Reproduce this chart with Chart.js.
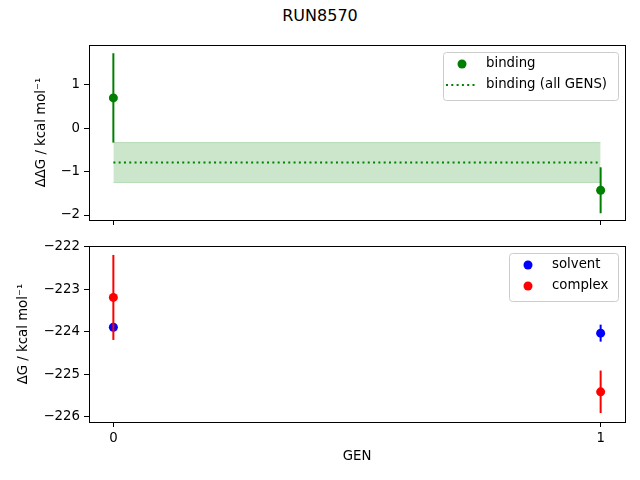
<!DOCTYPE html>
<html lang="en">
<head>
    <meta charset="UTF-8">
    <title>RUN8570</title>
    <script src="https://cdn.jsdelivr.net/npm/chart.js"></script>
    <style>
        body {
            margin: 0;
            background: #fff;
            font-family: "DejaVu Sans", sans-serif;
        }
        #wrap {
            position: relative;
            width: 640px;
            height: 480px;
        }
        #suptitle {
            position: absolute;
            top: 6px;
            left: 0;
            width: 640px;
            text-align: center;
            font-size: 16px;
            color: #000;
        }
        canvas {
            position: absolute;
            left: 0;
        }
        #topChart { top: 0; }
        #bottomChart { top: 230px; }
    </style>
</head>
<body>
<div id="wrap">
    <div id="suptitle">RUN8570</div>
    <canvas id="topChart" width="640" height="230"></canvas>
    <canvas id="bottomChart" width="640" height="250"></canvas>
</div>

<script>
    // data
    const gens = [0, 1];
    const xTicks = [0, 1];

    const bindingDDG = [0.70, -1.43];
    const bindingErr = [1.03, 0.53];
    const bindingAll = -0.79;
    const bindingAllErr = 0.46;

    const solventDG = [-223.89, -224.03];
    const solventErr = [0.08, 0.20];
    const complexDG = [-223.19, -225.41];
    const complexErr = [1.00, 0.50];

    const topTicks = [-2, -1, 0, 1];
    const bottomTicks = [-226, -225, -224, -223, -222];

    const FONT = '"DejaVu Sans", sans-serif';
    const pts = (xs, ys) => xs.map((x, i) => ({ x: x, y: ys[i] }));
    const minus = v => String(v).replace('-', '\u2212');

    // vertical error bar drawn right before its own dataset
    const errorBars = {
        id: 'errorBars',
        beforeDatasetDraw(chart, args) {
            const ds = chart.data.datasets[args.index];
            if (!ds.errs) return;
            const ctx = chart.ctx;
            const xs = chart.scales.x, ys = chart.scales.y;
            ctx.save();
            ctx.strokeStyle = ds.backgroundColor;
            ctx.lineWidth = 2;
            ds.data.forEach((p, i) => {
                const px = xs.getPixelForValue(p.x);
                ctx.beginPath();
                ctx.moveTo(px, ys.getPixelForValue(p.y + ds.errs[i]));
                ctx.lineTo(px, ys.getPixelForValue(p.y - ds.errs[i]));
                ctx.stroke();
            });
            ctx.restore();
        }
    };

    // full box around the plot area, like matplotlib spines
    const frame = {
        id: 'frame',
        afterDraw(chart) {
            const a = chart.chartArea, ctx = chart.ctx;
            ctx.save();
            ctx.strokeStyle = '#000';
            ctx.lineWidth = 1;
            ctx.strokeRect(Math.round(a.left) + 0.5, Math.round(a.top) + 0.5,
                Math.round(a.right - a.left), Math.round(a.bottom - a.top));
            ctx.restore();
        }
    };

    // matplotlib-style legend box in the upper right
    const boxLegend = {
        id: 'boxLegend',
        afterDraw(chart, args, opts) {
            const ctx = chart.ctx, a = chart.chartArea;
            const items = opts.items;
            const w = opts.width, h = 6 + items.length * 21;
            const x0 = a.right - 7 - w, y0 = a.top + 7;
            ctx.save();
            ctx.fillStyle = 'rgba(255,255,255,0.8)';
            ctx.strokeStyle = '#cccccc';
            ctx.lineWidth = 1;
            ctx.beginPath();
            ctx.roundRect(x0 + 0.5, y0 + 0.5, w, h, 3);
            ctx.fill();
            ctx.stroke();
            ctx.font = '13.3px ' + FONT;
            ctx.textBaseline = 'middle';
            items.forEach((it, i) => {
                const cy = y0 + 12 + i * 21;
                if (it.kind === 'dot') {
                    ctx.fillStyle = it.color;
                    ctx.beginPath();
                    ctx.arc(x0 + 19, cy, 4.5, 0, Math.PI * 2);
                    ctx.fill();
                } else {
                    ctx.strokeStyle = it.color;
                    ctx.lineWidth = 2;
                    ctx.setLineDash([2, 3.3]);
                    ctx.beginPath();
                    ctx.moveTo(x0 + 3, cy);
                    ctx.lineTo(x0 + 33, cy);
                    ctx.stroke();
                    ctx.setLineDash([]);
                }
                ctx.fillStyle = '#000';
                ctx.fillText(it.label, x0 + 43, cy);
            });
            ctx.restore();
        }
    };

    function xAxis(showLabels, height) {
        return {
            type: 'linear',
            min: -0.05,
            max: 1.05,
            afterBuildTicks: s => { s.ticks = xTicks.map(v => ({ value: v })); },
            afterFit: s => { s.height = height; s.paddingLeft = 0; s.paddingRight = 0; },
            grid: { drawOnChartArea: false, drawTicks: true, tickLength: 5, color: '#000', tickWidth: 1 },
            border: { display: true, color: '#000' },
            ticks: {
                display: showLabels,
                padding: 4,
                color: '#000',
                font: { family: FONT, size: 13.3 },
                maxRotation: 0,
                callback: v => minus(v)
            },
            title: {
                display: showLabels,
                text: 'GEN',
                color: '#000',
                font: { family: FONT, size: 13.3 },
                padding: { top: 0, bottom: 15 }
            }
        };
    }

    function yAxis(min, max, ticks, label, titlePad) {
        return {
            type: 'linear',
            min: min,
            max: max,
            afterBuildTicks: s => { s.ticks = ticks.map(v => ({ value: v })); },
            afterFit: s => { s.width = 89; s.paddingTop = 0; s.paddingBottom = 0; },
            grid: { drawOnChartArea: false, drawTicks: true, tickLength: 5, color: '#000', tickWidth: 1 },
            border: { display: true, color: '#000' },
            ticks: {
                padding: 4,
                color: '#000',
                font: { family: FONT, size: 13.3 },
                callback: v => minus(v)
            },
            title: {
                display: true,
                text: label,
                color: '#000',
                font: { family: FONT, size: 13.3 },
                padding: { top: titlePad, bottom: 0 }
            }
        };
    }

    const common = {
        responsive: false,
        animation: false,
        plugins: {
            legend: { display: false },
            tooltip: { enabled: false }
        }
    };

    new Chart(document.getElementById('topChart'), {
        type: 'line',
        data: {
            datasets: [
                {
                    label: 'binding',
                    data: pts(gens, bindingDDG),
                    errs: bindingErr,
                    showLine: false,
                    backgroundColor: '#008000',
                    borderColor: '#008000',
                    pointRadius: 4.5,
                    pointBorderWidth: 0
                },
                {
                    label: 'band upper',
                    data: pts(gens, gens.map(() => bindingAll + bindingAllErr)),
                    borderColor: 'rgba(0,128,0,0.2)',
                    borderWidth: 1,
                    pointRadius: 0,
                    fill: false
                },
                {
                    label: 'band lower',
                    data: pts(gens, gens.map(() => bindingAll - bindingAllErr)),
                    borderColor: 'rgba(0,128,0,0.2)',
                    backgroundColor: 'rgba(0,128,0,0.2)',
                    borderWidth: 1,
                    pointRadius: 0,
                    fill: '-1'
                },
                {
                    label: 'binding (all GENS)',
                    data: pts(gens, gens.map(() => bindingAll)),
                    borderColor: '#008000',
                    borderWidth: 2,
                    borderDash: [2, 3.3],
                    pointRadius: 0,
                    fill: false
                }
            ]
        },
        options: Object.assign({}, common, {
            layout: { padding: { top: 45, right: 15, bottom: 0, left: 0 } },
            scales: {
                x: xAxis(false, 10),
                y: yAxis(-2.115, 1.92, topTicks, '\u0394\u0394G / kcal mol\u207B\u00B9', 34)
            },
            plugins: Object.assign({}, common.plugins, {
                boxLegend: {
                    width: 175,
                    items: [
                        { kind: 'dot', color: '#008000', label: 'binding' },
                        { kind: 'line', color: '#008000', label: 'binding (all GENS)' }
                    ]
                }
            })
        }),
        plugins: [errorBars, frame, boxLegend]
    });

    new Chart(document.getElementById('bottomChart'), {
        type: 'line',
        data: {
            datasets: [
                {
                    label: 'solvent',
                    data: pts(gens, solventDG),
                    errs: solventErr,
                    showLine: false,
                    backgroundColor: '#0000ff',
                    borderColor: '#0000ff',
                    pointRadius: 4.5,
                    pointBorderWidth: 0,
                    order: 1
                },
                {
                    label: 'complex',
                    data: pts(gens, complexDG),
                    errs: complexErr,
                    showLine: false,
                    backgroundColor: '#ff0000',
                    borderColor: '#ff0000',
                    pointRadius: 4.5,
                    pointBorderWidth: 0,
                    order: 0
                }
            ]
        },
        options: Object.assign({}, common, {
            layout: { padding: { top: 16, right: 15, bottom: 0, left: 0 } },
            scales: {
                x: xAxis(true, 58),
                y: yAxis(-226.12, -221.98, bottomTicks, '\u0394G / kcal mol\u207B\u00B9', 16)
            },
            plugins: Object.assign({}, common.plugins, {
                boxLegend: {
                    width: 109,
                    items: [
                        { kind: 'dot', color: '#0000ff', label: 'solvent' },
                        { kind: 'dot', color: '#ff0000', label: 'complex' }
                    ]
                }
            })
        }),
        plugins: [errorBars, frame, boxLegend]
    });
</script>
</body>
</html>
